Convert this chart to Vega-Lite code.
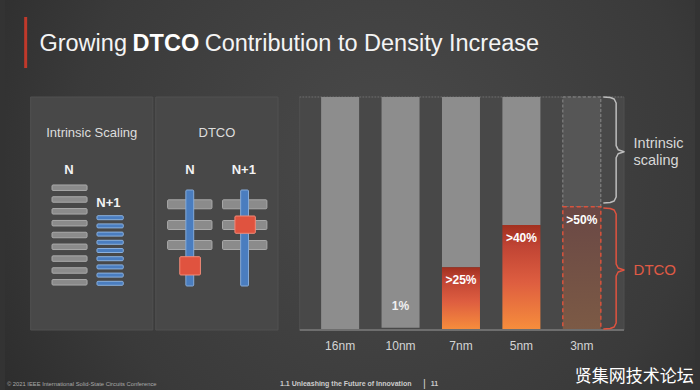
{
  "$schema": "https://vega.github.io/schema/vega-lite/v6.json",
  "width": 700,
  "height": 390,
  "autosize": {"type": "fit", "contains": "padding"},
  "padding": 0,
  "background": "#333333",
  "config": {
    "view": {"stroke": null},
    "text": {"font": "Liberation Sans"}
  },
  "datasets": {
    "nodes": [
      {"node": "16nm", "idx": 0, "dtco": 0, "total": 100, "label": "", "status": "actual"},
      {"node": "10nm", "idx": 1, "dtco": 1, "total": 100, "label": "1%", "status": "actual"},
      {"node": "7nm", "idx": 2, "dtco": 26.9, "total": 100, "label": ">25%", "status": "actual"},
      {"node": "5nm", "idx": 3, "dtco": 45.1, "total": 100, "label": ">40%", "status": "actual"},
      {"node": "3nm", "idx": 4, "dtco": 52.9, "total": 100, "label": ">50%", "status": "projected"}
    ],
    "frames": [
      {"part": "slide", "x1": -5.546, "x2": 5.873, "y1": -25.75, "y2": 141.63},
      {"part": "panel", "x1": -5.122, "x2": -3.1, "y1": 0, "y2": 100},
      {"part": "panel", "x1": -3.051, "x2": -1.028, "y1": 0, "y2": 100},
      {"part": "panel", "x1": -0.669, "x2": 4.698, "y1": 0, "y2": 100},
      {"part": "accent", "x1": -5.204, "x2": -5.204, "y1": 112.45, "y2": 134.33},
      {"part": "top", "x1": -0.669, "x2": 4.698, "y1": 100, "y2": 100},
      {"part": "base", "x1": -0.669, "x2": 4.698, "y1": 0, "y2": 0}
    ],
    "shapes": [
      {"kind": "metal", "x1": -4.768, "x2": -4.188, "y1": 59.89, "y2": 62.25},
      {"kind": "metal", "x1": -4.768, "x2": -4.188, "y1": 54.83, "y2": 57.19},
      {"kind": "metal", "x1": -4.768, "x2": -4.188, "y1": 49.76, "y2": 52.12},
      {"kind": "metal", "x1": -4.768, "x2": -4.188, "y1": 44.66, "y2": 47.02},
      {"kind": "metal", "x1": -4.768, "x2": -4.188, "y1": 39.59, "y2": 41.95},
      {"kind": "metal", "x1": -4.768, "x2": -4.188, "y1": 34.53, "y2": 36.89},
      {"kind": "metal", "x1": -4.768, "x2": -4.188, "y1": 29.46, "y2": 31.82},
      {"kind": "metal", "x1": -4.768, "x2": -4.188, "y1": 24.36, "y2": 26.72},
      {"kind": "metal", "x1": -4.768, "x2": -4.188, "y1": 19.29, "y2": 21.65},
      {"kind": "scaled", "x1": -4.024, "x2": -3.589, "y1": 47.34, "y2": 49.06},
      {"kind": "scaled", "x1": -4.024, "x2": -3.589, "y1": 43.82, "y2": 45.54},
      {"kind": "scaled", "x1": -4.024, "x2": -3.589, "y1": 40.3, "y2": 42.02},
      {"kind": "scaled", "x1": -4.024, "x2": -3.589, "y1": 36.78, "y2": 38.5},
      {"kind": "scaled", "x1": -4.024, "x2": -3.589, "y1": 33.26, "y2": 34.98},
      {"kind": "scaled", "x1": -4.024, "x2": -3.589, "y1": 29.74, "y2": 31.46},
      {"kind": "scaled", "x1": -4.024, "x2": -3.589, "y1": 26.22, "y2": 27.94},
      {"kind": "scaled", "x1": -4.024, "x2": -3.589, "y1": 22.7, "y2": 24.42},
      {"kind": "scaled", "x1": -4.024, "x2": -3.589, "y1": 19.18, "y2": 20.9},
      {"kind": "metal", "x1": -2.855, "x2": -2.121, "y1": 52.02, "y2": 55.88},
      {"kind": "metal", "x1": -2.855, "x2": -2.121, "y1": 43.13, "y2": 46.99},
      {"kind": "metal", "x1": -2.855, "x2": -2.121, "y1": 34.55, "y2": 38.41},
      {"kind": "metal", "x1": -1.946, "x2": -1.212, "y1": 52.02, "y2": 55.88},
      {"kind": "metal", "x1": -1.946, "x2": -1.212, "y1": 43.13, "y2": 46.99},
      {"kind": "metal", "x1": -1.946, "x2": -1.212, "y1": 34.55, "y2": 38.41},
      {"kind": "gate", "x1": -2.553, "x2": -2.423, "y1": 18.88, "y2": 60.09},
      {"kind": "gate", "x1": -1.646, "x2": -1.516, "y1": 18.88, "y2": 60.09},
      {"kind": "contact", "x1": -2.654, "x2": -2.312, "y1": 23.61, "y2": 31.46},
      {"kind": "contact", "x1": -1.741, "x2": -1.403, "y1": 41.5, "y2": 48.93}
    ],
    "braces": [
      {"brace": "intrinsic", "o": 1, "x": 4.356, "y": 100},
      {"brace": "intrinsic", "o": 2, "x": 4.47, "y": 99.79},
      {"brace": "intrinsic", "o": 3, "x": 4.535, "y": 99.14},
      {"brace": "intrinsic", "o": 4, "x": 4.568, "y": 97.42},
      {"brace": "intrinsic", "o": 5, "x": 4.568, "y": 79.1},
      {"brace": "intrinsic", "o": 6, "x": 4.601, "y": 77.38},
      {"brace": "intrinsic", "o": 7, "x": 4.698, "y": 76.52},
      {"brace": "intrinsic", "o": 8, "x": 4.601, "y": 75.66},
      {"brace": "intrinsic", "o": 9, "x": 4.568, "y": 73.94},
      {"brace": "intrinsic", "o": 10, "x": 4.568, "y": 57.09},
      {"brace": "intrinsic", "o": 11, "x": 4.535, "y": 55.37},
      {"brace": "intrinsic", "o": 12, "x": 4.47, "y": 54.72},
      {"brace": "intrinsic", "o": 13, "x": 4.356, "y": 54.51},
      {"brace": "dtco", "o": 1, "x": 4.356, "y": 52.36},
      {"brace": "dtco", "o": 2, "x": 4.47, "y": 52.15},
      {"brace": "dtco", "o": 3, "x": 4.535, "y": 51.5},
      {"brace": "dtco", "o": 4, "x": 4.568, "y": 49.78},
      {"brace": "dtco", "o": 5, "x": 4.568, "y": 28.33},
      {"brace": "dtco", "o": 6, "x": 4.601, "y": 26.61},
      {"brace": "dtco", "o": 7, "x": 4.698, "y": 25.75},
      {"brace": "dtco", "o": 8, "x": 4.601, "y": 24.89},
      {"brace": "dtco", "o": 9, "x": 4.568, "y": 23.17},
      {"brace": "dtco", "o": 10, "x": 4.568, "y": 3.01},
      {"brace": "dtco", "o": 11, "x": 4.535, "y": 1.29},
      {"brace": "dtco", "o": 12, "x": 4.47, "y": 0.64},
      {"brace": "dtco", "o": 13, "x": 4.356, "y": 0.43}
    ],
    "labels": [
      {"role": "title", "t": "Growing", "x": -4.976, "y": 119.74},
      {"role": "title", "t": "Contribution to Density Increase", "x": -2.241, "y": 119.74},
      {"role": "titleBold", "t": "DTCO", "x": -3.434, "y": 119.74},
      {"role": "panelHead", "t": "Intrinsic Scaling", "x": -4.111, "y": 82.83},
      {"role": "panelHead", "t": "DTCO", "x": -2.039, "y": 82.83},
      {"role": "nodeHead", "t": "N", "x": -4.486, "y": 66.95},
      {"role": "nodeHead", "t": "N+1", "x": -3.834, "y": 52.79},
      {"role": "nodeHead", "t": "N", "x": -2.485, "y": 66.95},
      {"role": "nodeHead", "t": "N+1", "x": -1.594, "y": 66.95},
      {"role": "tick", "t": "16nm", "x": 0, "y": -6.87},
      {"role": "tick", "t": "10nm", "x": 1, "y": -6.87},
      {"role": "tick", "t": "7nm", "x": 2, "y": -6.87},
      {"role": "tick", "t": "5nm", "x": 3, "y": -6.87},
      {"role": "tick", "t": "3nm", "x": 4, "y": -6.87},
      {"role": "brace", "t": "Intrinsic", "x": 4.856, "y": 79.83},
      {"role": "brace", "t": "scaling", "x": 4.856, "y": 72.66},
      {"role": "braceRed", "t": "DTCO", "x": 4.856, "y": 25.75},
      {"role": "footer", "t": "© 2021 IEEE International Solid-State Circuits Conference", "x": -5.514, "y": -23.18},
      {"role": "footerBold", "t": "1.1 Unleashing the Future of Innovation", "x": -0.995, "y": -23.18},
      {"role": "footerBold", "t": "11", "x": 1.501, "y": -23.18},
      {"role": "footerBar", "t": "|", "x": 1.37, "y": -23.18},
      {"role": "watermark", "t": "贤集网技术论坛", "x": 3.883, "y": -20.17}
    ]
  },
  "layer": [
    {
      "data": {"name": "frames"},
      "transform": [{"filter": "datum.part == 'slide'"}],
      "mark": {
        "type": "rect",
        "fill": {
          "gradient": "radial",
          "x1": 0.55, "y1": 0.45, "r1": 0,
          "x2": 0.55, "y2": 0.45, "r2": 0.75,
          "stops": [
            {"offset": 0, "color": "#4a4a4a"},
            {"offset": 0.6, "color": "#3a3a3a"},
            {"offset": 1, "color": "#262626"}
          ]
        }
      },
      "encoding": {
        "x": {"field": "x1", "type": "quantitative", "axis": null, "scale": {"domain": [-5.546, 5.873], "nice": false, "zero": false}},
        "x2": {"field": "x2"},
        "y": {"field": "y1", "type": "quantitative", "axis": null, "scale": {"domain": [-25.75, 141.63], "nice": false, "zero": false}},
        "y2": {"field": "y2"}
      }
    },
    {
      "data": {"name": "frames"},
      "transform": [{"filter": "datum.part == 'accent'"}],
      "mark": {"type": "rule", "stroke": "#c0392b", "strokeWidth": 3},
      "encoding": {
        "x": {"field": "x1", "type": "quantitative", "axis": null},
        "y": {"field": "y1", "type": "quantitative", "axis": null},
        "y2": {"field": "y2"}
      }
    },
    {
      "data": {"name": "frames"},
      "transform": [{"filter": "datum.part == 'panel'"}],
      "mark": {"type": "rect", "fill": "#484848", "stroke": "#505050", "strokeWidth": 1},
      "encoding": {
        "x": {"field": "x1", "type": "quantitative", "axis": null},
        "x2": {"field": "x2"},
        "y": {"field": "y1", "type": "quantitative", "axis": null},
        "y2": {"field": "y2"}
      }
    },
    {
      "data": {"name": "frames"},
      "transform": [{"filter": "datum.part == 'top'"}],
      "mark": {"type": "rule", "stroke": "#7a7a7a", "strokeWidth": 1, "strokeDash": [1, 2]},
      "encoding": {
        "x": {"field": "x1", "type": "quantitative", "axis": null},
        "x2": {"field": "x2"},
        "y": {"field": "y1", "type": "quantitative", "axis": null}
      }
    },
    {
      "data": {"name": "shapes"},
      "mark": {"type": "rect", "strokeWidth": 1, "cornerRadius": 1},
      "encoding": {
        "x": {"field": "x1", "type": "quantitative", "axis": null},
        "x2": {"field": "x2"},
        "y": {"field": "y1", "type": "quantitative", "axis": null},
        "y2": {"field": "y2"},
        "color": {
          "field": "kind", "type": "nominal", "legend": null,
          "scale": {"domain": ["metal", "scaled", "gate", "contact"], "range": ["#8b8b8b", "#4a7dbf", "#4a7dbf", "#e0533f"]}
        },
        "stroke": {
          "field": "kind", "type": "nominal", "legend": null,
          "scale": {"domain": ["metal", "scaled", "gate", "contact"], "range": ["#a9a9a9", "#8ab0dd", "#86aad6", "#f08a78"]}
        }
      }
    },
    {
      "data": {"name": "nodes"},
      "transform": [{"filter": "datum.status == 'actual'"}],
      "mark": {"type": "bar", "orient": "vertical", "width": 38, "fill": "#8d8d8d"},
      "encoding": {
        "x": {"field": "idx", "type": "quantitative", "axis": null},
        "y": {"field": "dtco", "type": "quantitative", "axis": null},
        "y2": {"field": "total"}
      }
    },
    {
      "data": {"name": "nodes"},
      "transform": [{"filter": "datum.status == 'projected'"}],
      "mark": {"type": "bar", "orient": "vertical", "width": 38, "fill": "#565656", "stroke": "#8a8a8a", "strokeWidth": 1, "strokeDash": [3, 2]},
      "encoding": {
        "x": {"field": "idx", "type": "quantitative", "axis": null},
        "y": {"field": "dtco", "type": "quantitative", "axis": null},
        "y2": {"field": "total"}
      }
    },
    {
      "data": {"name": "nodes"},
      "transform": [{"filter": "datum.status == 'actual' && datum.dtco >= 10"}],
      "mark": {
        "type": "bar", "orient": "vertical", "width": 38,
        "fill": {
          "gradient": "linear", "x1": 0, "y1": 1, "x2": 0, "y2": 0,
          "stops": [
            {"offset": 0, "color": "#f78e3c"},
            {"offset": 0.45, "color": "#de5e40"},
            {"offset": 0.8, "color": "#c04434"},
            {"offset": 1, "color": "#a2301f"}
          ]
        }
      },
      "encoding": {
        "x": {"field": "idx", "type": "quantitative", "axis": null},
        "y": {"field": "dtco", "type": "quantitative", "axis": null}
      }
    },
    {
      "data": {"name": "nodes"},
      "transform": [{"filter": "datum.status == 'projected'"}],
      "mark": {
        "type": "bar", "orient": "vertical", "width": 38,
        "stroke": "#d9533d", "strokeWidth": 1.5, "strokeDash": [4, 3],
        "fill": {
          "gradient": "linear", "x1": 0, "y1": 1, "x2": 0, "y2": 0,
          "stops": [
            {"offset": 0, "color": "#7c5a45"},
            {"offset": 1, "color": "#6a4845"}
          ]
        }
      },
      "encoding": {
        "x": {"field": "idx", "type": "quantitative", "axis": null},
        "y": {"field": "dtco", "type": "quantitative", "axis": null}
      }
    },
    {
      "data": {"name": "frames"},
      "transform": [{"filter": "datum.part == 'base'"}],
      "mark": {"type": "rule", "stroke": "#6e6e6e", "strokeWidth": 2},
      "encoding": {
        "x": {"field": "x1", "type": "quantitative", "axis": null},
        "x2": {"field": "x2"},
        "y": {"field": "y1", "type": "quantitative", "axis": null}
      }
    },
    {
      "data": {"name": "nodes"},
      "transform": [{"filter": "datum.dtco >= 10"}],
      "mark": {"type": "text", "dy": 13, "fontSize": 12, "fontWeight": "bold", "fill": "#ffffff", "baseline": "middle"},
      "encoding": {
        "x": {"field": "idx", "type": "quantitative", "axis": null},
        "y": {"field": "dtco", "type": "quantitative", "axis": null},
        "text": {"field": "label", "type": "nominal"}
      }
    },
    {
      "data": {"name": "nodes"},
      "transform": [{"filter": "datum.dtco > 0 && datum.dtco < 10"}],
      "mark": {"type": "text", "dy": -22, "fontSize": 12, "fontWeight": "bold", "fill": "#f0f0f0", "baseline": "middle"},
      "encoding": {
        "x": {"field": "idx", "type": "quantitative", "axis": null},
        "y": {"field": "dtco", "type": "quantitative", "axis": null},
        "text": {"field": "label", "type": "nominal"}
      }
    },
    {
      "data": {"name": "braces"},
      "transform": [{"filter": "datum.brace == 'intrinsic'"}],
      "mark": {"type": "line", "stroke": "#bdbdbd", "strokeWidth": 1.5, "strokeJoin": "round"},
      "encoding": {
        "x": {"field": "x", "type": "quantitative", "axis": null},
        "y": {"field": "y", "type": "quantitative", "axis": null},
        "order": {"field": "o", "type": "quantitative"}
      }
    },
    {
      "data": {"name": "braces"},
      "transform": [{"filter": "datum.brace == 'dtco'"}],
      "mark": {"type": "line", "stroke": "#e0533f", "strokeWidth": 1.5, "strokeJoin": "round"},
      "encoding": {
        "x": {"field": "x", "type": "quantitative", "axis": null},
        "y": {"field": "y", "type": "quantitative", "axis": null},
        "order": {"field": "o", "type": "quantitative"}
      }
    },
    {
      "data": {"name": "labels"},
      "transform": [{"filter": "datum.role == 'title'"}],
      "mark": {"type": "text", "align": "left", "baseline": "alphabetic", "fontSize": 23.5, "fill": "#f4f4f4"},
      "encoding": {
        "x": {"field": "x", "type": "quantitative", "axis": null},
        "y": {"field": "y", "type": "quantitative", "axis": null},
        "text": {"field": "t", "type": "nominal"}
      }
    },
    {
      "data": {"name": "labels"},
      "transform": [{"filter": "datum.role == 'titleBold'"}],
      "mark": {"type": "text", "align": "left", "baseline": "alphabetic", "fontSize": 23.5, "fontWeight": "bold", "fill": "#ffffff"},
      "encoding": {
        "x": {"field": "x", "type": "quantitative", "axis": null},
        "y": {"field": "y", "type": "quantitative", "axis": null},
        "text": {"field": "t", "type": "nominal"}
      }
    },
    {
      "data": {"name": "labels"},
      "transform": [{"filter": "datum.role == 'panelHead'"}],
      "mark": {"type": "text", "align": "center", "baseline": "alphabetic", "fontSize": 13, "fill": "#dddddd"},
      "encoding": {
        "x": {"field": "x", "type": "quantitative", "axis": null},
        "y": {"field": "y", "type": "quantitative", "axis": null},
        "text": {"field": "t", "type": "nominal"}
      }
    },
    {
      "data": {"name": "labels"},
      "transform": [{"filter": "datum.role == 'nodeHead'"}],
      "mark": {"type": "text", "align": "center", "baseline": "alphabetic", "fontSize": 13, "fontWeight": "bold", "fill": "#f2f2f2"},
      "encoding": {
        "x": {"field": "x", "type": "quantitative", "axis": null},
        "y": {"field": "y", "type": "quantitative", "axis": null},
        "text": {"field": "t", "type": "nominal"}
      }
    },
    {
      "data": {"name": "labels"},
      "transform": [{"filter": "datum.role == 'tick'"}],
      "mark": {"type": "text", "align": "center", "baseline": "middle", "fontSize": 12, "fill": "#d4d4d4"},
      "encoding": {
        "x": {"field": "x", "type": "quantitative", "axis": null},
        "y": {"field": "y", "type": "quantitative", "axis": null},
        "text": {"field": "t", "type": "nominal"}
      }
    },
    {
      "data": {"name": "labels"},
      "transform": [{"filter": "datum.role == 'brace'"}],
      "mark": {"type": "text", "align": "left", "baseline": "middle", "fontSize": 14.5, "fill": "#d8d8d8"},
      "encoding": {
        "x": {"field": "x", "type": "quantitative", "axis": null},
        "y": {"field": "y", "type": "quantitative", "axis": null},
        "text": {"field": "t", "type": "nominal"}
      }
    },
    {
      "data": {"name": "labels"},
      "transform": [{"filter": "datum.role == 'braceRed'"}],
      "mark": {"type": "text", "align": "left", "baseline": "middle", "fontSize": 15, "fill": "#e05a45"},
      "encoding": {
        "x": {"field": "x", "type": "quantitative", "axis": null},
        "y": {"field": "y", "type": "quantitative", "axis": null},
        "text": {"field": "t", "type": "nominal"}
      }
    },
    {
      "data": {"name": "labels"},
      "transform": [{"filter": "datum.role == 'footer'"}],
      "mark": {"type": "text", "align": "left", "baseline": "middle", "fontSize": 5.8, "fill": "#aaaaaa"},
      "encoding": {
        "x": {"field": "x", "type": "quantitative", "axis": null},
        "y": {"field": "y", "type": "quantitative", "axis": null},
        "text": {"field": "t", "type": "nominal"}
      }
    },
    {
      "data": {"name": "labels"},
      "transform": [{"filter": "datum.role == 'footerBold'"}],
      "mark": {"type": "text", "align": "left", "baseline": "middle", "fontSize": 7, "fontWeight": "bold", "fill": "#cccccc"},
      "encoding": {
        "x": {"field": "x", "type": "quantitative", "axis": null},
        "y": {"field": "y", "type": "quantitative", "axis": null},
        "text": {"field": "t", "type": "nominal"}
      }
    },
    {
      "data": {"name": "labels"},
      "transform": [{"filter": "datum.role == 'footerBar'"}],
      "mark": {"type": "text", "align": "left", "baseline": "middle", "fontSize": 11, "fill": "#cccccc"},
      "encoding": {
        "x": {"field": "x", "type": "quantitative", "axis": null},
        "y": {"field": "y", "type": "quantitative", "axis": null},
        "text": {"field": "t", "type": "nominal"}
      }
    },
    {
      "data": {"name": "labels"},
      "transform": [{"filter": "datum.role == 'watermark'"}],
      "mark": {"type": "text", "align": "left", "baseline": "middle", "fontSize": 17, "font": "Noto Sans CJK SC", "fill": "#ffffff"},
      "encoding": {
        "x": {"field": "x", "type": "quantitative", "axis": null},
        "y": {"field": "y", "type": "quantitative", "axis": null},
        "text": {"field": "t", "type": "nominal"}
      }
    }
  ]
}
